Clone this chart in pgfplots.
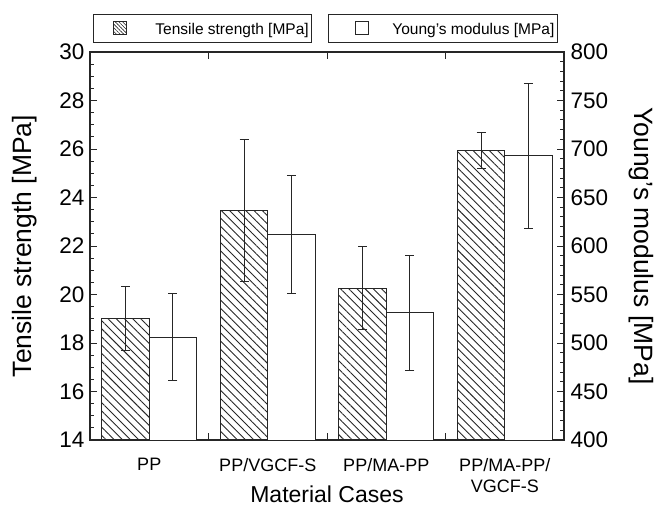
\documentclass[border=0pt]{standalone}
\usepackage{fontspec}
\setmainfont{Liberation Sans}
\usepackage{pgfplots}
\usepackage{pgfplotstable}
\pgfplotsset{compat=1.18}
\usetikzlibrary{patterns.meta}

% xt/xy: bar centres of the two series in each group
\pgfplotstableread{
xt    xy   ts    tserr ym  ymerr
-0.2  0.2  19.00 1.32  506 45
0.8   1.2  23.46 2.92  612 61
1.8   2.2  20.26 1.70  531 59
2.8   3.2  25.93 0.75  693 75
}\datatable

\begin{document}
\begin{tikzpicture}
\pgfplotsset{
  base/.style={
    scale only axis, width=474pt, height=388pt,
    at={(0,0)}, anchor=south west,
    xmin=-0.5, xmax=3.5,
    axis line style={line width=1.1pt, black!85},
    every tick/.style={line width=0.9pt, black!85},
    major tick length=7pt, minor tick length=4pt,
    tick align=inside,
    /pgf/number format/assume math mode=true,
    tick label style={font=\fontsize{22.5}{26}\selectfont},
    label style={font=\fontsize{26.5}{30}\selectfont},
    legend style={draw=black!85, line width=0.8pt, inner xsep=3pt, inner ysep=7pt,
      font=\fontsize{15.5}{17}\selectfont, nodes={inner sep=0pt}},
  },
  errs/.style={error bars/.cd, y dir=both, y explicit,
    error bar style={line width=1pt, black!85},
    error mark options={rotate=90, black!85, mark size=4.5pt, line width=1pt}},
}
\begin{axis}[base,
  ymin=14, ymax=30, ytick distance=2, minor y tick num=3,
  ytick pos=left,
  yticklabel style={xshift=-2pt},
  xtick={0.5,1.5,2.5}, xticklabels={},
  extra x ticks={0,1,2,3},
  extra x tick labels={PP, PP/VGCF-S, PP/MA-PP, {PP/MA-PP/\\VGCF-S}},
  extra x tick style={major tick length=0pt,
    tick label style={font=\fontsize{18}{21}\selectfont, align=center, yshift=-15pt}},
  xlabel={Material Cases},
  ylabel={Tensile strength [MPa]},
  ylabel style={at={(axis description cs:-0.137,0.5)}, anchor=center},
  xlabel style={at={(axis description cs:0.5,-0.139)}, anchor=center,
    font=\fontsize{23}{26}\selectfont},
  legend style={at={(axis description cs:0.0063,1.023)}, anchor=south west},
  ]
\addplot[ybar, bar width=0.4, bar shift=0pt, draw=black!85, line width=1pt,
  pattern={Lines[angle=-45, distance=5.8pt, line width=0.9pt]}, pattern color=black!85,
  legend image code/.code={
    \path[draw=none, fill=none] (0pt,0pt) -- (59pt,0pt);
    \draw[draw=black!85, line width=0.8pt,
      pattern={Lines[angle=-45, distance=2.6pt, line width=0.6pt]}, pattern color=black!85]
      (17pt,-5pt) rectangle (30pt,8pt);},
  errs]
  table[x=xt, y=ts, y error=tserr]{\datatable};
\addlegendentry{Tensile strength [MPa]}
\end{axis}

\begin{axis}[base,
  axis x line=none, axis y line*=right,
  ymin=400, ymax=800, ytick distance=50, minor y tick num=4,
  yticklabel style={xshift=3pt},
  ylabel={Young's modulus [MPa]},
  ylabel style={at={(axis description cs:1.164,0.5)}, anchor=center, rotate=180},
  legend style={at={(axis description cs:0.502,1.023)}, anchor=south west},
  ]
\addplot[ybar, bar width=0.4, bar shift=0pt, draw=black!85, line width=1pt, fill=white,
  legend image code/.code={
    \path[draw=none, fill=none] (0pt,0pt) -- (61pt,0pt);
    \draw[draw=black!85, line width=0.8pt, fill=white]
      (24pt,-5pt) rectangle (37pt,8pt);},
  errs]
  table[x=xy, y=ym, y error=ymerr]{\datatable};
\addlegendentry{Young's modulus [MPa]\hspace{7pt}}
\end{axis}
\pgfresetboundingbox
\path[use as bounding box] (-90pt,-66pt) rectangle (570pt,440pt);
\end{tikzpicture}
\end{document}
